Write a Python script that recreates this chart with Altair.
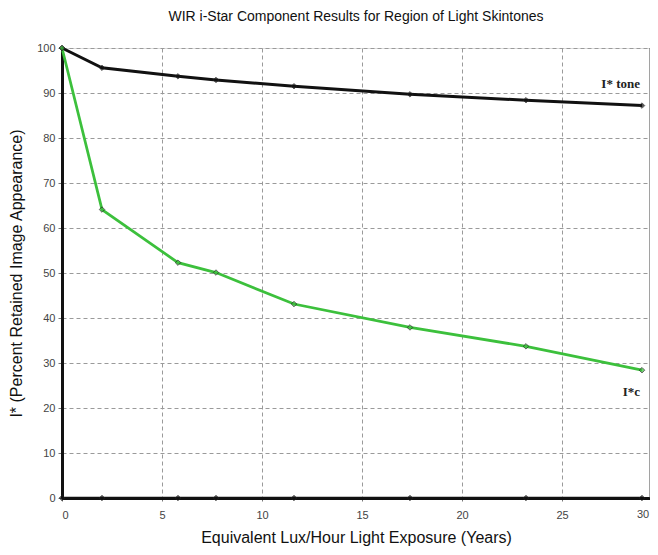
import altair as alt
import pandas as pd

years = [0, 2.0, 5.8, 7.7, 11.6, 17.4, 23.2, 29.0]
tone = [100, 95.6, 93.7, 92.9, 91.5, 89.7, 88.4, 87.2]
chroma = [100, 64.1, 52.3, 50.1, 43.1, 37.9, 33.7, 28.4]
baseline = [0, 0, 0, 0, 0, 0, 0, 0]

label_text = ["I* tone", "I*c"]
label_x = [28.9, 28.9]
label_y = [92.0, 23.6]

x_ticks = [0, 5, 10, 15, 20, 25]
y_ticks = [0, 10, 20, 30, 40, 50, 60, 70, 80, 90, 100]
XMAX = 29.4

df = pd.DataFrame({
    "x": years * 3,
    "y": tone + chroma + baseline,
    "s": ["tone"] * len(years) + ["chroma"] * len(years) + ["base"] * len(years),
})
labels = pd.DataFrame({"t": label_text, "x": label_x, "y": label_y})
edge = pd.DataFrame({"x": [XMAX], "t": ["30"], "y": [0]})

xs = alt.Scale(domain=[0, XMAX], nice=False, zero=False)
ys = alt.Scale(domain=[0, 100], nice=False)

color = alt.Color("s:N", scale=alt.Scale(domain=["tone", "chroma", "base"],
                                         range=["#111111", "#3cc03c", "#111111"]), legend=None)

xaxis = alt.Axis(values=x_ticks, title="Equivalent Lux/Hour Light Exposure (Years)",
                 grid=True, gridDash=[4, 3], gridColor="#9a9a9a", gridWidth=1,
                 domainColor="#111", domainWidth=3, tickSize=3, tickColor="#777",
                 labelPadding=8, labelFontSize=11, labelColor="#444",
                 labelFont="Liberation Sans", titleFont="Liberation Sans",
                 titleFontSize=16, titleFontWeight="normal", titleColor="#111",
                 titlePadding=9)
yaxis = alt.Axis(values=y_ticks, title="I* (Percent Retained Image Appearance)",
                 grid=True, gridDash=[4, 3], gridColor="#9a9a9a", gridWidth=1,
                 domainColor="#111", domainWidth=3, tickSize=4, tickColor="#777",
                 labelPadding=3, labelFontSize=11, labelColor="#444",
                 labelFont="Liberation Sans", titleFont="Liberation Sans",
                 titleFontSize=16, titleFontWeight="normal", titleColor="#111",
                 titlePadding=12)

base = alt.Chart(df)

lines = base.mark_line().encode(
    x=alt.X("x:Q", scale=xs, axis=xaxis),
    y=alt.Y("y:Q", scale=ys, axis=yaxis),
    color=color,
    detail="s:N",
    strokeWidth=alt.StrokeWidth("s:N", scale=alt.Scale(domain=["tone", "chroma", "base"],
                                                       range=[3, 2.5, 2.5]), legend=None),
)

points = base.mark_point(shape="diamond", filled=True, size=30, stroke="#222", strokeWidth=1).encode(
    x=alt.X("x:Q", scale=xs),
    y=alt.Y("y:Q", scale=ys),
    fill=alt.Fill("s:N", scale=alt.Scale(domain=["tone", "chroma", "base"],
                                         range=["#111111", "#3cc03c", "#111111"]), legend=None),
)

right_edge = alt.Chart(edge).mark_rule(color="#444", strokeWidth=1).encode(
    x=alt.X("x:Q", scale=xs),
    y=alt.value(0),
    y2=alt.value(450),
)

thirty = alt.Chart(edge).mark_text(fontSize=11, font="Liberation Sans", color="#444",
                                   dy=17, dx=-7, clip=False).encode(
    x=alt.X("x:Q", scale=xs),
    y=alt.Y("y:Q", scale=ys),
    text="t:N",
)

ann = alt.Chart(labels).mark_text(font="Liberation Serif", fontWeight="bold", fontSize=13,
                                  color="#222", align="right").encode(
    x=alt.X("x:Q", scale=xs),
    y=alt.Y("y:Q", scale=ys),
    text="t:N",
)

chart = alt.layer(right_edge, lines, points, ann, thirty).properties(
    width=588, height=450,
    autosize=alt.AutoSizeParams(type="none"),
    padding={"left": 54, "top": 40, "right": 0, "bottom": 48},
    title=alt.TitleParams("WIR i-Star Component Results for Region of Light Skintones",
                          font="Liberation Sans", fontSize=14, fontWeight="normal",
                          color="#111", offset=18),
).configure_view(stroke=None).configure(background="white")

chart.save("out.html", embed_options={"renderer": "svg", "actions": False})
